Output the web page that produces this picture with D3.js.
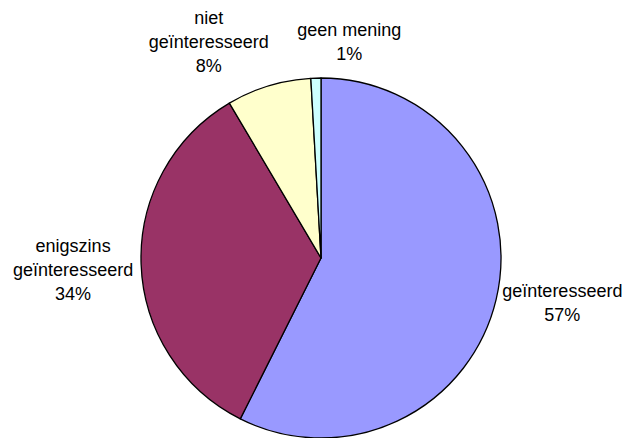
<!DOCTYPE html>
<html>
<head>
<meta charset="utf-8">
<script src="https://cdn.jsdelivr.net/npm/d3@7"></script>
<style>
  body { margin: 0; background: #fff; }
  text { font-family: Arial, 'Liberation Sans', sans-serif; font-size: 18px; fill: #000; }
</style>
</head>
<body>
<div id="chart"></div>
<script>
const categories = ['geïnteresseerd', 'enigszins geïnteresseerd', 'niet geïnteresseerd', 'geen mening'];
const labelLines = [['geïnteresseerd'], ['enigszins', 'geïnteresseerd'], ['niet', 'geïnteresseerd'], ['geen mening']];
const values = [57.4, 34.1, 7.6, 0.9];
const colors = ['#9999ff', '#993366', '#ffffcc', '#ccffff'];

const width = 632;
const height = 438;
const cx = 321;
const cy = 258;
const radius = 180;
const lineHeight = 24;
// Excel moved the labels a little to keep them apart
const nudge = [[0, -3], [0, 4], [-40, -4], [35, -6]];

const svg = d3.select('#chart')
  .append('svg')
  .attr('width', width)
  .attr('height', height);

const g = svg.append('g')
  .attr('transform', `translate(${cx},${cy})`);

const pie = d3.pie().sort(null).value((d) => d);
const arcs = pie(values);
const arc = d3.arc().innerRadius(0).outerRadius(radius);
const total = d3.sum(values);

g.selectAll('path')
  .data(arcs)
  .enter()
  .append('path')
  .attr('d', arc)
  .attr('fill', (d, i) => colors[i])
  .attr('stroke', '#000')
  .attr('stroke-width', 1.3)
  .attr('stroke-linejoin', 'round');

const labels = g.selectAll('.label')
  .data(arcs)
  .enter()
  .append('text')
  .attr('class', 'label')
  .attr('text-anchor', 'middle');

labels.each(function (d, i) {
  const t = d3.select(this);
  const lines = labelLines[i].concat([`${Math.round((d.value / total) * 100)}%`]);
  lines.forEach((l, k) => {
    t.append('tspan')
      .attr('x', 0)
      .attr('y', k * lineHeight)
      .text(l);
  });
  const box = this.getBBox();
  const mid = (d.startAngle + d.endAngle) / 2;
  const sx = Math.sin(mid);
  const sy = -Math.cos(mid);
  const ax = sx * (radius + 8);
  const ay = sy * (radius + 8);
  const bx = ax + sx * box.width / 2 + nudge[i][0];
  const by = ay + sy * box.height / 2 + nudge[i][1];
  // centre the text block on (bx, by)
  t.attr('transform', `translate(${bx},${by - (box.y + box.height / 2)})`);
});
</script>
</body>
</html>
